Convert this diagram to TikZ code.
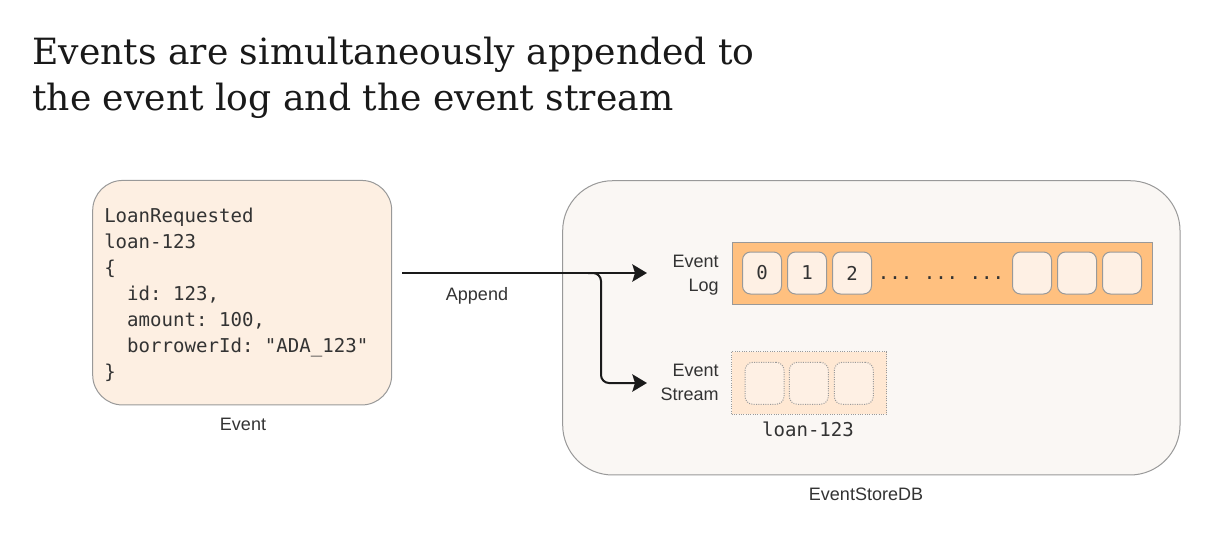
\documentclass[tikz,border=0pt]{standalone}
\usepackage{fontspec}
\setmainfont{Liberation Sans}
\setmonofont{DejaVu Sans Mono}
\newfontfamily\titlef{DejaVu Serif}
\usetikzlibrary{arrows.meta}
\definecolor{storefill}{HTML}{FAF7F4}
\definecolor{eventfill}{HTML}{FDEFE2}
\definecolor{logfill}{HTML}{FFC07F}
\definecolor{cellfill}{HTML}{FEF0E4}
\definecolor{streamfill}{HTML}{FFE8D3}
\definecolor{edge}{HTML}{999999}
\definecolor{ink}{HTML}{333333}
\definecolor{arrowink}{HTML}{1A1A1A}
\tikzset{
  lbl/.style={font=\fontsize{13.5}{18}\selectfont, text=ink, inner sep=0pt},
  mono/.style={font=\ttfamily\fontsize{14.3}{19.5}\selectfont, text=ink, inner sep=0pt},
  cell/.style={draw=edge, fill=cellfill, line width=0.75pt, rounded corners=6pt,
    minimum width=29.25pt, minimum height=31.5pt, inner sep=0pt},
  dcell/.style={cell, densely dotted},
  conn/.style={draw=arrowink, line width=1.5pt, -{Stealth[length=11pt,width=13pt,inset=2pt]}},
}
\begin{document}
\begin{tikzpicture}[x=0.75pt,y=-0.75pt]
\useasboundingbox[fill=white] (0,0) rectangle (1232,546);

% title
\node[anchor=north west, inner sep=0pt, align=left, text=black!90,
      font=\titlef\fontsize{27.1}{34.5}\selectfont] (title) at (32,36.5)
  {Events are simultaneously appended to\\the event log and the event stream};

% event box
\node[draw=edge, fill=eventfill, line width=0.75pt, rounded corners=22.5pt,
      minimum width=224.25pt, minimum height=168.4pt, inner sep=0pt] (event) at (242.2,292.7) {};
\node[mono, anchor=north west, align=left] (payload) at (104,207.5)
  {LoanRequested\\loan-123\\\{\\\hphantom{xx}id: 123,\\\hphantom{xx}amount: 100,\\\hphantom{xx}borrowerId: "ADA\_123"\\\}};
\node[lbl, anchor=base] (eventlbl) at (243,430) {Event};

% store
\node[draw=edge, fill=storefill, line width=0.75pt, rounded corners=37.5pt,
      minimum width=463pt, minimum height=220.7pt, inner sep=0pt] (store) at (871.35,327.85) {};
\node[lbl, anchor=base] (storelbl) at (866,500) {EventStoreDB};

% event log
\node[draw=edge, fill=logfill, line width=0.75pt, minimum width=315pt, minimum height=46.5pt,
      inner sep=0pt] (log) at (942,273) {};
\node[cell] (c0) at (762,273) {};
\node[cell] (c1) at (807,273) {};
\node[cell] (c2) at (852,273) {};
\node[cell] (c4) at (1032,273) {};
\node[cell] (c5) at (1077,273) {};
\node[cell] (c6) at (1122,273) {};
\node[mono] (d0) at (c0) {0};
\node[mono] (d1) at (c1) {1};
\node[mono] (d2) at (c2) {2};
\node[mono, anchor=base] (dots) at (941,279) {... ... ...};
\node[lbl, anchor=east, align=right] (loglbl) at (719,275) {Event\\Log};

% event stream
\node[draw=edge, fill=streamfill, line width=0.75pt, densely dotted, minimum width=116.25pt,
      minimum height=47pt, inner sep=0pt] (stream) at (809.2,383) {};
\node[dcell] (s0) at (764.5,383.3) {};
\node[dcell] (s1) at (808.8,383.3) {};
\node[dcell] (s2) at (853.8,383.3) {};
\node[mono, anchor=base] (streamname) at (808,436) {loan-123};
\node[lbl, anchor=east, align=right] (streamlbl) at (719,382.7) {Event\\Stream};

% connectors
\coordinate (src) at (402,273);
\coordinate (logtip) at (647,273);
\coordinate (fork) at (588,273);
\coordinate (bend) at (601,383);
\coordinate (streamtip) at (647,383);
\draw[conn] (src) -- (logtip);
\draw[conn, rounded corners=6pt] (fork) -| (bend) -- (streamtip);
\node[lbl, anchor=base] (appendlbl) at (477,300.7) {Append};
\end{tikzpicture}
\end{document}
